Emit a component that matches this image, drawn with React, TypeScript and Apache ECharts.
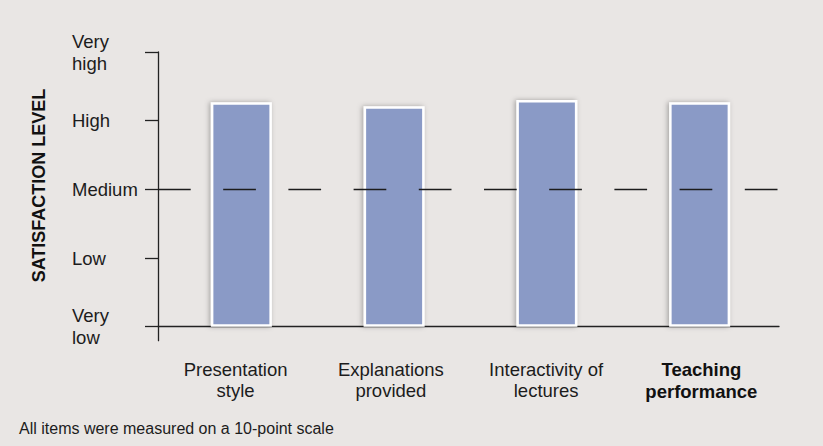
import React, { useEffect, useRef } from 'react';
import * as echarts from 'echarts';

const categories = ['Presentation\nstyle', 'Explanations\nprovided', 'Interactivity of\nlectures', 'Teaching\nperformance'];
const satisfaction = [3.27, 3.21, 3.3, 3.27];
const levelLabels = ['Very\nlow', 'Low', 'Medium', 'High', 'Very\nhigh'];
const levelValues = [0, 1, 2, 3, 4];
const referenceLevel = 2;
const axisTitle = 'SATISFACTION LEVEL';
const footnote = 'All items were measured on a 10-point scale';

const FONT = '"Liberation Sans", Arial, Helvetica, sans-serif';
const INK = '#1c1c1c';
const AXIS = '#222222';

// layout
const TOP = 52;
const ZERO_Y = 326.7;
const UNIT = (ZERO_Y - TOP) / 4;
const EXT = 14;

export default function App() {
  const ref = useRef<HTMLDivElement>(null);
  useEffect(() => {
    if (!ref.current) return;
    const chart = echarts.init(ref.current, undefined, { renderer: 'svg' });
    const lineStyle = { color: AXIS, width: 1.3 };
    chart.setOption({
      animation: false,
      backgroundColor: '#e9e6e4',
      textStyle: { fontFamily: FONT },
      title: {
        text: footnote,
        left: 19,
        top: 420,
        padding: 0,
        textStyle: { fontFamily: FONT, fontSize: 16, fontWeight: 'normal', color: INK },
      },
      graphic: [
        {
          type: 'text',
          x: 38.5,
          y: 185.5,
          rotation: Math.PI / 2,
          style: {
            text: axisTitle,
            fontFamily: FONT,
            fontSize: 18,
            fontWeight: 'bold',
            fill: '#111',
            align: 'center',
            verticalAlign: 'middle',
          },
        },
      ],
      grid: [
        { left: 158, right: 44, top: TOP, bottom: 446 - ZERO_Y - EXT },
        { left: 165, right: 47, top: TOP, bottom: 446 - ZERO_Y },
      ],
      xAxis: [
        {
          gridIndex: 0,
          type: 'category',
          data: categories,
          boundaryGap: true,
          axisLine: { show: true, onZero: true, lineStyle },
          axisTick: { show: false },
          splitLine: { show: false },
          axisLabel: {
            interval: 0,
            margin: 18,
            fontFamily: FONT,
            fontSize: 18.5,
            lineHeight: 21,
            color: INK,
            formatter: (v: string, i: number) => (i === categories.length - 1 ? `{b|${v}}` : v),
            rich: {
              b: { fontFamily: FONT, fontWeight: 'bold', fontSize: 18.5, lineHeight: 22, color: '#111' },
            },
          },
        },
        { gridIndex: 1, type: 'category', data: categories, show: false },
      ],
      yAxis: [
        {
          gridIndex: 0,
          type: 'value',
          min: -EXT / UNIT,
          max: 4,
          axisLine: { show: true, lineStyle },
          axisTick: { show: true, length: 13, lineStyle, customValues: levelValues },
          splitLine: { show: false },
          axisLabel: {
            customValues: levelValues,
            formatter: (v: number) => levelLabels[Math.round(v)] ?? '',
            align: 'left',
            margin: 86,
            fontFamily: FONT,
            fontSize: 18.5,
            lineHeight: 22,
            color: INK,
          },
        },
        { gridIndex: 1, type: 'value', min: 0, max: 4, show: false },
      ],
      series: [
        {
          type: 'bar',
          xAxisIndex: 1,
          yAxisIndex: 1,
          data: satisfaction,
          barWidth: 61,
          silent: true,
          itemStyle: {
            color: '#8a9ac6',
            borderColor: '#ffffff',
            borderWidth: 2.5,
            shadowBlur: 5,
            shadowColor: 'rgba(0,0,0,0.3)',
            shadowOffsetX: -1.5,
          },
        },
        {
          type: 'line',
          xAxisIndex: 0,
          yAxisIndex: 0,
          data: [],
          symbol: 'none',
          silent: true,
          markLine: {
            silent: true,
            symbol: 'none',
            label: { show: false },
            lineStyle: { color: INK, width: 1.3, type: [32.7, 32.5] },
            data: [{ yAxis: referenceLevel }],
          },
        },
      ],
    });
    return () => chart.dispose();
  }, []);
  return <div ref={ref} style={{ position: 'fixed', left: 0, top: 0, width: 823, height: 446 }} />;
}
